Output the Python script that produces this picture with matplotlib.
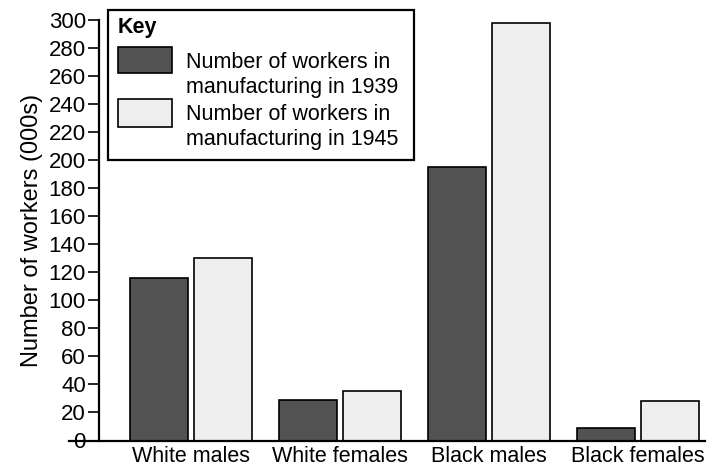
import matplotlib.pyplot as plt
import numpy as np
from matplotlib.patches import Rectangle

plt.rcParams['font.family'] = ['Liberation Sans', 'DejaVu Sans']

groups = ["White males", "White females", "Black males", "Black females"]
workers_1939 = [116, 29, 195, 9]
workers_1945 = [130, 35, 298, 28]
yticks = list(range(0, 301, 20))
key_labels = ["Number of workers in\nmanufacturing in 1939",
              "Number of workers in\nmanufacturing in 1945"]

dark = "#525252"
light = "#eeeeee"

W, H = 707, 472
fig = plt.figure(figsize=(W / 100, H / 100), dpi=100)
ax = fig.add_axes([99 / W, 1 - 440.5 / H, 606 / W, 420.5 / H])

x = np.arange(len(groups))
w = 0.39
gap = 0.04
ax.bar(x - (w + gap) / 2, workers_1939, w, color=dark, edgecolor="black", linewidth=1.2)
ax.bar(x + (w + gap) / 2, workers_1945, w, color=light, edgecolor="black", linewidth=1.2)

ax.set_xlim(-0.62, 3.45)
ax.set_ylim(0, 300)
ax.set_yticks(yticks)
ax.set_xticks(x)
ax.set_xticklabels(groups, fontsize=15.5)
ax.tick_params(axis="x", length=0, pad=4)
ax.tick_params(axis="y", length=8, width=1.2, labelsize=16, pad=1.5)

for s in ["top", "right", "bottom"]:
    ax.spines[s].set_visible(False)
ax.spines["left"].set_linewidth(1.6)
ax.spines["left"].set_bounds(0, 300)
# baseline runs a little left of the y axis, like a long zero tick
ax.plot([-0.05, 1.0], [0, 0], transform=ax.get_yaxis_transform(), color="black",
        linewidth=1.6, clip_on=False)

ax.set_ylabel("Number of workers (000s)", fontsize=17, labelpad=4)


# key box drawn in figure pixels
def px(xp, yp):
    return xp / W, 1 - yp / H


fig.patches.append(Rectangle(px(108, 160), 306 / W, 150 / H, transform=fig.transFigure,
                             facecolor="white", edgecolor="black", linewidth=1.6, zorder=5))
fig.text(*px(118, 27), "Key", fontsize=15.5, fontweight="bold", va="center", zorder=6)
for (y0, y1, col), lab, ty in zip([(47, 73, dark), (99, 127, light)], key_labels, [75, 127]):
    fig.patches.append(Rectangle(px(118, y1), 54 / W, (y1 - y0) / H, transform=fig.transFigure,
                                 facecolor=col, edgecolor="black", linewidth=1.2, zorder=6))
    fig.text(*px(186, ty), lab, fontsize=15.5, va="center", linespacing=1.22, zorder=6)

fig.savefig("out.png", dpi=100)
